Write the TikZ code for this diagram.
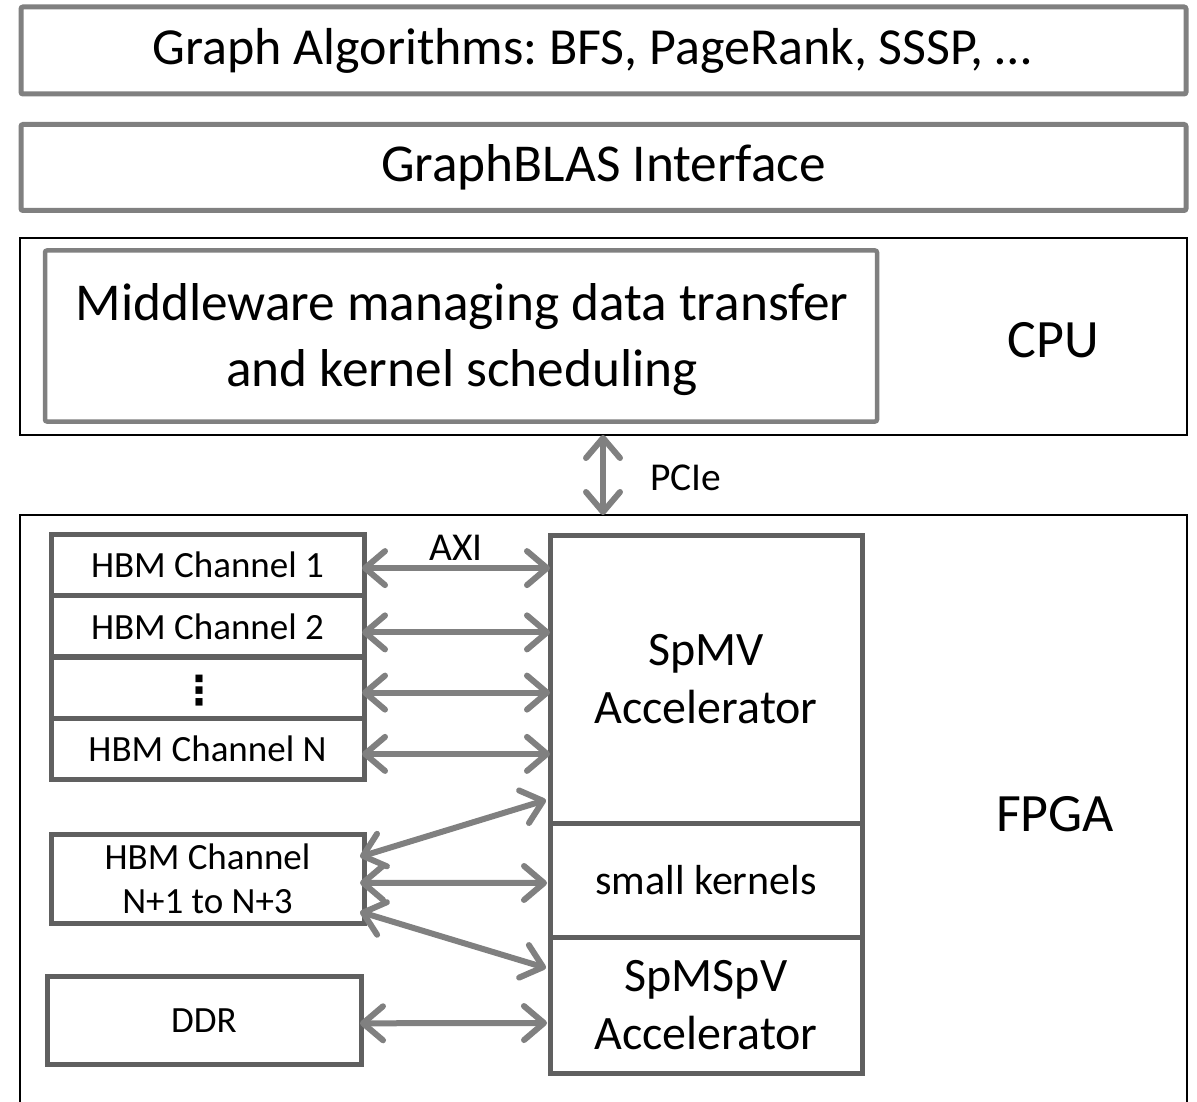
\documentclass[tikz,border=0pt]{standalone}
\usepackage{fontspec}
\setmainfont{Carlito}
\newfontfamily\symfont{DejaVu Sans}
\usetikzlibrary{arrows.meta,calc}

\definecolor{layergray}{HTML}{808080}
\definecolor{blockgray}{HTML}{606060}
\definecolor{linkgray}{HTML}{808080}

\frenchspacing
\begin{document}
\begin{tikzpicture}[x=1pt,y=-1pt,
  layer/.style={draw=layergray, line width=5pt, rounded corners=2pt, inner sep=0pt, outer sep=0pt,
    font=\fontsize{53.3}{66}\selectfont, align=center},
  frame/.style={draw=black, line width=2pt, inner sep=0pt, outer sep=0pt},
  block/.style={draw=blockgray, line width=5pt, inner sep=0pt, outer sep=0pt, align=center},
  hbm/.style={block, font=\fontsize{37}{44}\selectfont},
  accel/.style={block, font=\fontsize{48}{58}\selectfont},
  biglabel/.style={font=\fontsize{54}{62}\selectfont},
  smalllabel/.style={font=\fontsize{39.5}{46}\selectfont},
  link/.style={draw=linkgray, line width=6pt, line cap=round,
    {Straight Barb[length=20pt, width=34pt, round]}-{Straight Barb[length=20pt, width=34pt, round]}},
]
\useasboundingbox (0,0) rectangle (1197,1102);
\clip (0,0) rectangle (1197,1102);

% software layers
\node[layer, minimum width=1165pt, minimum height=87pt] (alg) at (603.5,50.5) {};
\node[font=\fontsize{52}{62}\selectfont] (algtext) at (592,50.5)
  {Graph Algorithms: BFS, PageRank, SSSP, …};
\node[layer, minimum width=1165pt, minimum height=86pt] (blas) at (603.5,167.5)
  {GraphBLAS Interface};

% host side
\node[frame, minimum width=1167pt, minimum height=197pt] (cpu) at (603.5,336.5) {};
\node[layer, line width=4.5pt, minimum width=832pt, minimum height=171pt] (mw) at (461,336) {};
\node[font=\fontsize{53.3}{66}\selectfont, align=center] (mwtext) at (462,340)
  {Middleware managing data transfer\\and kernel scheduling};
\node[biglabel] (cpulabel) at (1053,340) {CPU};

% device side
\node[frame, minimum width=1167pt, minimum height=700pt] (fpga) at (603.5,865) {};
\node[biglabel] (fpgalabel) at (1055,814) {FPGA};

% memory channels
\node[hbm, minimum width=313pt, minimum height=61.25pt] (h1) at (207.5,565.1) {HBM Channel 1};
\node[hbm, minimum width=313pt, minimum height=61.25pt] (h2) at (207.5,626.4) {HBM Channel 2};
\node[hbm, minimum width=313pt, minimum height=61.25pt] (h3) at (207.5,687.6) {};
\node[font=\symfont\bfseries\fontsize{40}{44}\selectfont] (dots) at (199,691) {⋮};
\node[hbm, minimum width=313pt, minimum height=61.25pt] (hn) at (207.5,748.9) {HBM Channel N};
\node[hbm, minimum width=313pt, minimum height=88.5pt] (hx) at (207.5,878.8) {HBM Channel\\N+1 to N+3};
\node[hbm, minimum width=314pt, minimum height=88.5pt] (ddr) at (204,1020.3) {DDR};

% kernels
\node[accel, minimum width=312pt, minimum height=288pt] (spmv) at (706,679) {SpMV\\Accelerator};
\node[accel, font=\fontsize{42}{48}\selectfont, minimum width=312pt, minimum height=114pt] (small) at (706,880) {small kernels};
\node[accel, minimum width=312pt, minimum height=136pt] (spmspv) at (706,1005) {SpMSpV\\Accelerator};

% host link
\draw[link] (cpu.south -| 603,0) -- (fpga.north -| 603,0);
\node[smalllabel] (pcie) at (686,478) {PCIe};

% memory links
\draw[link] ($(h1.east)+(-2,3)$) -- ($(h1.east -| spmv.west)+(0,3)$);
\draw[link] ($(h2.east)+(-2,6)$) -- ($(h2.east -| spmv.west)+(0,6)$);
\draw[link] ($(h3.east)+(-2,5)$) -- ($(h3.east -| spmv.west)+(0,5)$);
\draw[link] ($(hn.east)+(-2,5)$) -- ($(hn.east -| spmv.west)+(0,5)$);
\node[smalllabel] (axi) at (456,548) {AXI};

\draw[link] ($(hx.east)+(-4,-22)$) -- ($(spmv.west)+(-4,121)$);
\draw[link] ($(hx.east)+(-4,4)$) -- ($(small.west)+(-3,3)$);
\draw[link] ($(hx.east)+(-4,33)$) -- ($(spmspv.west)+(-4,-37)$);
\draw[link] ($(ddr.east)+(-1,3)$) -- ($(spmspv.west)+(-3,18)$);
\end{tikzpicture}
\end{document}
